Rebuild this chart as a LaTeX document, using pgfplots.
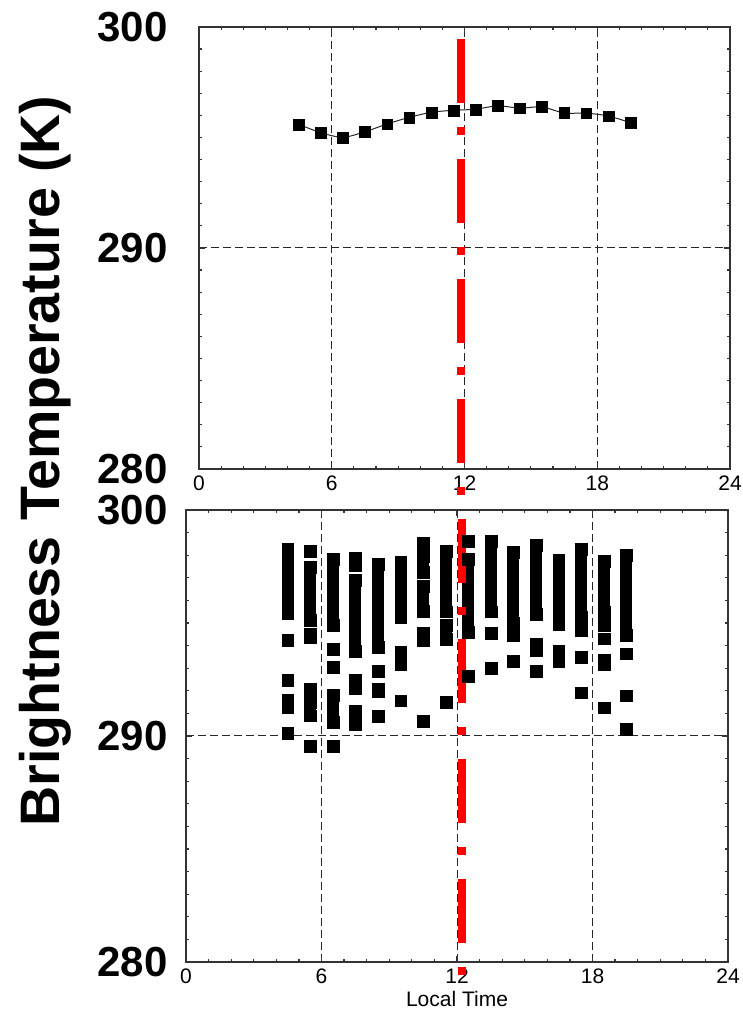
\documentclass[border=0pt]{standalone}
\usepackage{fontspec}
\setmainfont{Liberation Sans}
\usepackage{pgfplots}
\pgfplotsset{compat=1.18}
\definecolor{framec}{HTML}{333333}
\definecolor{redline}{HTML}{FF0000}
\pgfplotsset{
  panel/.style={
    scale only axis,
    xmin=0, xmax=24, ymin=280, ymax=300,
    xtick={0,6,12,18,24}, ytick={280,290,300},
    minor x tick num=5, minor y tick num=9,
    tick align=inside,
    major tick length=3pt, minor tick length=1.6pt,
    every tick/.style={framec, line width=0.6pt},
    axis line style={framec, line width=0.8pt},
    grid=major,
    major grid style={black!85, dash pattern=on 4pt off 2pt, line width=0.5pt},
    /pgf/number format/assume math mode=true,
    xticklabel style={font=\fontsize{10.5}{12}\selectfont, inner sep=0pt, anchor=north, yshift=-3pt},
    clip=false,
  }
}
\begin{document}
\begin{tikzpicture}
% top panel
\begin{axis}[panel,
  at={(99.5pt,271.5pt)}, anchor=south west,
  width=265.5pt, height=221pt,
  yticklabel style={font=\bfseries\fontsize{21}{21}\selectfont, inner sep=0pt, anchor=east, xshift=-15.5pt},
]
\addplot[black!85, line width=0.5pt, smooth, mark=square*, mark size=2.7pt,
  mark options={solid, fill=black, draw=black, line width=0.1pt}] coordinates {
  (4.5,295.60) (5.5,295.22) (6.5,295.01) (7.5,295.26) (8.5,295.61) (9.5,295.91)
  (10.5,296.14) (11.5,296.23) (12.5,296.28) (13.5,296.43) (14.5,296.33) (15.5,296.38)
  (16.5,296.11) (17.5,296.10) (18.5,295.97) (19.5,295.67)};
\addplot[redline, line width=4pt, dash pattern=on 32pt off 12pt on 4pt off 12pt]
  coordinates {(11.86,299.47) (11.86,278.84)};
\end{axis}
% bottom panel
\begin{axis}[panel,
  at={(93pt,25pt)}, anchor=south west,
  width=271pt, height=226pt,
  yticklabel style={font=\bfseries\fontsize{21}{21}\selectfont, inner sep=0pt, anchor=east, xshift=-9pt},
  xlabel={Local Time},
  xlabel style={font=\fontsize{10.5}{12}\selectfont, inner sep=0pt, anchor=north, at={(axis description cs:0.5,0)}, yshift=-14.5pt},
]
\addplot[black, line width=6pt, mark=square*, mark size=2.95pt,
  mark options={solid, fill=black, draw=black, line width=0.1pt}, unbounded coords=jump] coordinates {
  (4.5,298.26) (4.5,295.43) (4.5,nan) (4.5,294.25) (4.5,nan) (4.5,292.48) (4.5,nan)
  (4.5,291.58) (4.5,291.27) (4.5,nan) (4.5,290.12) (4.5,nan)
  (5.5,298.19) (5.5,nan) (5.5,297.48) (5.5,295.13) (5.5,nan) (5.5,294.50) (5.5,294.37) (5.5,nan)
  (5.5,292.08) (5.5,nan) (5.5,291.50) (5.5,290.90) (5.5,nan) (5.5,289.54) (5.5,nan)
  (6.5,297.82) (6.5,294.91) (6.5,nan) (6.5,293.86) (6.5,nan) (6.5,293.05) (6.5,nan)
  (6.5,291.80) (6.5,290.61) (6.5,nan) (6.5,289.54) (6.5,nan)
  (7.5,297.89) (7.5,297.54) (7.5,nan) (7.5,296.89) (7.5,293.77) (7.5,nan)
  (7.5,292.46) (7.5,292.11) (7.5,nan) (7.5,291.11) (7.5,nan) (7.5,290.53) (7.5,nan)
  (8.5,297.60) (8.5,293.95) (8.5,nan) (8.5,292.88) (8.5,nan) (8.5,292.09) (8.5,291.98) (8.5,nan)
  (8.5,290.88) (8.5,nan)
  (9.5,297.71) (9.5,295.25) (9.5,nan) (9.5,293.72) (9.5,293.19) (9.5,nan) (9.5,291.57) (9.5,nan)
  (10.5,298.54) (10.5,nan) (10.5,297.96) (10.5,297.24) (10.5,nan) (10.5,296.64) (10.5,295.54) (10.5,nan)
  (10.5,294.54) (10.5,294.25) (10.5,nan) (10.5,290.66) (10.5,nan)
  (11.5,298.19) (11.5,295.50) (11.5,nan) (11.5,294.91) (11.5,294.29) (11.5,nan) (11.5,291.50) (11.5,nan)
  (12.5,298.63) (12.5,nan) (12.5,297.82) (12.5,294.59) (12.5,nan) (12.5,292.65) (12.5,nan)
  (13.5,298.63) (13.5,295.50) (13.5,nan) (13.5,294.56) (13.5,nan) (13.5,293.01) (13.5,nan)
  (14.5,298.14) (14.5,295.00) (14.5,nan) (14.5,294.45) (14.5,nan) (14.5,293.32) (14.5,nan)
  (15.5,298.44) (15.5,295.40) (15.5,nan) (15.5,294.06) (15.5,293.81) (15.5,nan) (15.5,292.88) (15.5,nan)
  (16.5,297.79) (16.5,294.96) (16.5,nan) (16.5,293.76) (16.5,293.33) (16.5,nan)
  (17.5,298.26) (17.5,295.25) (17.5,nan) (17.5,294.68) (17.5,nan) (17.5,293.50) (17.5,nan) (17.5,291.92) (17.5,nan)
  (18.5,297.74) (18.5,295.47) (18.5,nan) (18.5,294.91) (18.5,nan) (18.5,294.31) (18.5,nan)
  (18.5,293.35) (18.5,293.19) (18.5,nan) (18.5,291.26) (18.5,nan)
  (19.5,298.00) (19.5,294.48) (19.5,nan) (19.5,293.65) (19.5,nan) (19.5,291.79) (19.5,nan) (19.5,290.30)};
\addplot[redline, line width=4pt, dash pattern=on 32pt off 12pt on 4pt off 12pt]
  coordinates {(12.2,299.62) (12.2,279.42)};
\end{axis}
\node[rotate=90, font=\bfseries\fontsize{27.8}{28}\selectfont, inner sep=0pt] at (22.5pt,275.5pt) {Brightness Temperature (K)};
\pgfresetboundingbox
\useasboundingbox (0,0) rectangle (371.5pt,506pt);
\end{tikzpicture}
\end{document}
